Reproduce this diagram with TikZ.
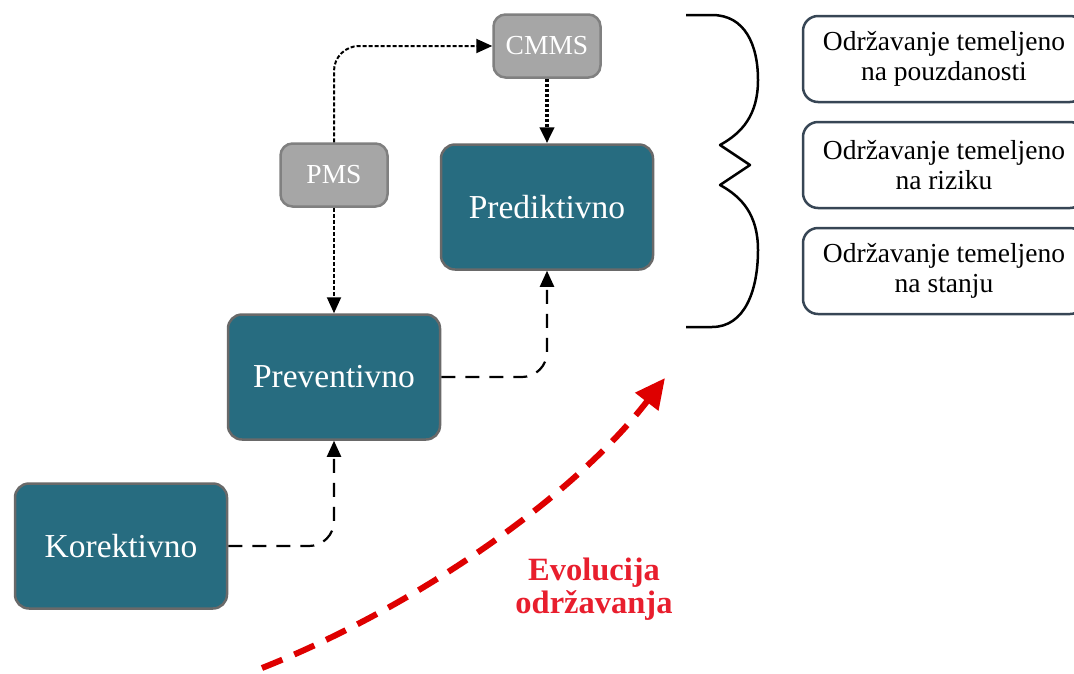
\documentclass[tikz,border=0pt]{standalone}
\usepackage{fontspec}
\setmainfont{Liberation Serif}
\usetikzlibrary{arrows.meta,positioning,calc}
\definecolor{tealblue}{RGB}{39,108,128}
\definecolor{stageborder}{RGB}{105,105,105}
\definecolor{toolgray}{RGB}{166,166,166}
\definecolor{toolborder}{RGB}{128,128,128}
\definecolor{slate}{RGB}{55,70,85}
\definecolor{evored}{RGB}{222,0,0}
\definecolor{evotextred}{RGB}{232,30,45}

\begin{document}
\begin{tikzpicture}[x=1pt, y=-1pt,
    stage/.style={rectangle, rounded corners=14pt, draw=stageborder, line width=2.5pt, fill=tealblue,
        text=white, minimum width=212pt, minimum height=125pt, font=\fontsize{33.5}{38}\selectfont},
    tool/.style={rectangle, rounded corners=12pt, draw=toolborder, line width=2.5pt, fill=toolgray,
        text=white, minimum width=107pt, minimum height=63pt, font=\fontsize{27.5}{30}\selectfont},
    basis/.style={rectangle, rounded corners=15pt, draw=slate, line width=2.5pt, fill=white,
        minimum width=282pt, minimum height=86pt, align=center, font=\fontsize{27.5}{30}\selectfont},
    flow/.style={-{Triangle[length=16pt,width=14pt]}, line width=2.2pt, dash pattern=on 14pt off 10pt,
        rounded corners=25pt},
    fineflow/.style={-{Triangle[length=16pt,width=14pt]}, line width=2pt, dash pattern=on 4pt off 2pt,
        rounded corners=25pt},
    heavyflow/.style={-{Triangle[length=16pt,width=14pt]}, line width=4pt, dash pattern=on 3pt off 2pt},
    evo/.style={-{Triangle[length=30pt,width=28pt]}, evored, line width=6pt, dash pattern=on 22pt off 13pt}
]
\useasboundingbox (0,0) rectangle (1074,673);

% maintenance stages
\node[stage] (kor) at (121,546) {Korektivno};
\node[stage] (prev) at (334,377) {Preventivno};
\node[stage] (pred) at (547,207) {Prediktivno};

% software tools
\node[tool] (pms) at (334,175) {PMS};
\node[tool] (cmms) at (547,46) {CMMS};

% approaches
\node[basis] (rel) at (944,59) {Održavanje temeljeno\\na pouzdanosti};
\node[basis] (risk) at (944,165) {Održavanje temeljeno\\na riziku};
\node[basis] (cond) at (944,271) {Održavanje temeljeno\\na stanju};

\draw[flow] (kor.east) -| (prev.south);
\draw[flow] (prev.east) -| (pred.south);
\draw[fineflow] (pms.south) -- (prev.north);
\draw[fineflow] (pms.north) |- (cmms.west);
\draw[heavyflow] (cmms.south) -- (pred.north);

% brace
\draw[line width=2.5pt, line join=round] (686,15) -- (712,15)
    .. controls (745,15) and (758,45) .. (758,80)
    .. controls (758,115) and (742,133) .. (720,145) -- (750,165) -- (720,185)
    .. controls (742,197) and (758,215) .. (758,250)
    .. controls (758,290) and (745,327) .. (712,327) -- (686,327);

% evolution arrow
\coordinate (evostart) at (262,668);
\coordinate (evoend) at (665,378);
\draw[evo] (evostart) .. controls (420,605) and (575,495) .. (evoend);
\node[text=evotextred, align=center, font=\bfseries\fontsize{32.5}{33}\selectfont] (evolabel) at (594,589) {Evolucija\\održavanja};
\end{tikzpicture}
\end{document}
